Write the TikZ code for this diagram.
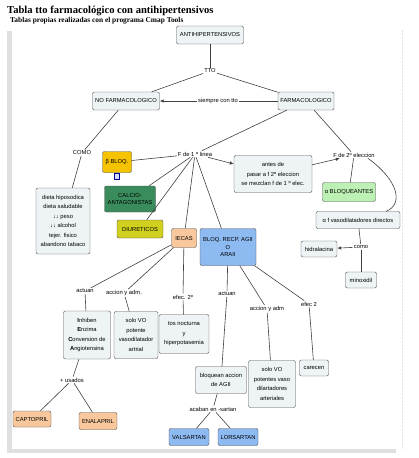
\documentclass[tikz,border=0pt]{standalone}
\usepackage{fontspec}
\setmainfont{Liberation Serif}
\setsansfont{Liberation Sans}
\usetikzlibrary{arrows.meta,positioning}

\definecolor{cmapfill}{HTML}{EEF3F6}
\definecolor{betagold}{HTML}{F5C300}
\definecolor{calciogreen}{HTML}{3A8C5C}
\definecolor{diuryellow}{HTML}{D0D01E}
\definecolor{peach}{HTML}{F8C89C}
\definecolor{araiiblue}{HTML}{8EBAF2}
\definecolor{alfagreen}{HTML}{BDF0B4}

\newcommand\cmapfont{\sffamily\fontsize{5.8}{9.5}\selectfont}

\tikzset{
  concept/.style={draw=black!70, rounded corners=2pt, fill=cmapfill, align=center, font=\cmapfont, inner sep=1.5pt},
  linkword/.style={font=\cmapfont, inner sep=1pt},
  conn/.style={draw=black!75, line width=0.6pt},
  arr/.style={conn, -{Latex[length=4pt,width=3.5pt]}}
}

\begin{document}
\begin{tikzpicture}[x=1pt,y=-1pt]
    \useasboundingbox (0,0) rectangle (419,458);
    % Frame of the map
    \fill[black!12] (7,31) rectangle (12,453);
    \fill[black!12] (7,449) rectangle (396,453);
    \draw[black!10, densely dotted] (402,30) -- (402,449);
    % Titles
    \node[anchor=base west, inner sep=0, font=\bfseries\fontsize{10.6}{12}\selectfont] (title) at (7,13) {Tabla tto farmacológico con antihipertensivos};
    \node[anchor=base west, inner sep=0, font=\bfseries\fontsize{7.4}{8}\selectfont] (subtitle) at (10,22) {Tablas propias realizadas con el programa Cmap Tools};

    % Concepts
    \node[concept, minimum width=67, minimum height=18] (anti) at (210,35) {ANTIHIPERTENSIVOS};
    \node[concept, minimum width=67, minimum height=18] (nofarm) at (126,101) {NO FARMACOLOGICO};
    \node[concept, minimum width=56, minimum height=18] (farm) at (306,101) {FARMACOLOGICO};
    \node[concept, minimum width=54, minimum height=66] (dieta) at (63,221) {dieta hiposodica\\dieta saludable\\↓↓ peso\\↓↓ alcohol\\tejer. fisico\\abandono tabaco};
    \node[concept, fill=betagold, minimum width=29, minimum height=21] (beta) at (117,162) {β BLOQ.};
    \node[draw=blue!60!black, fill=blue!15, minimum width=5, minimum height=6, inner sep=0] (betaicon) at (117,176) {};
    \node[concept, fill=calciogreen, minimum width=51, minimum height=26] (calcio) at (130,199) {CALCIO-\\[-2pt]ANTAGONISTAS};
    \node[concept, fill=diuryellow, minimum width=46, minimum height=18] (diur) at (140,229) {DIURETICOS};
    \node[concept, fill=peach, minimum width=25, minimum height=19] (iecas) at (184,238) {IECAS};
    \node[concept, fill=araiiblue, minimum width=56, minimum height=37] (araii) at (228,247) {BLOQ. RECP. AGII\\[-2pt]O\\[-2pt]ARAII};
    \node[concept, minimum width=78, minimum height=37] (antes) at (273,174) {antes de\\pasar a f 2º eleccion\\se mezclan f de 1 º elec.};
    \node[concept, fill=alfagreen, minimum width=53, minimum height=19] (alfab) at (349,192) {α BLOQUEANTES};
    \node[concept, minimum width=84, minimum height=17] (vaso) at (358,220) {α f vasodilatadores directos};
    \node[concept, minimum width=36, minimum height=16] (hidra) at (319,249) {hidralacina};
    \node[concept, minimum width=31, minimum height=16] (minox) at (361,280) {minoxidil};
    \node[concept, minimum width=47, minimum height=48] (inhiben) at (87,335) {\textbf{I}nhiben\\\textbf{E}nzima\\\textbf{C}onversion de\\\textbf{A}ngiotensina};
    \node[concept, minimum width=44, minimum height=47] (soloa) at (136,335) {solo VO\\potente\\vasodilatador\\artrial};
    \node[concept, minimum width=50, minimum height=39] (tos) at (184,334) {tos nocturna\\y\\hiperpotasemia};
    \node[concept, fill=peach, minimum width=38, minimum height=16] (captop) at (32,419) {CAPTOPRIL};
    \node[concept, fill=peach, minimum width=38, minimum height=17] (enal) at (98,421) {ENALAPRIL};
    \node[concept, minimum width=51, minimum height=27] (bloq) at (221,380) {bloquean accion\\de AGII};
    \node[concept, minimum width=47, minimum height=47] (solob) at (272,384) {solo VO\\potentes vaso\\dilartadores\\arteriales};
    \node[concept, minimum width=29, minimum height=16] (carecen) at (314,368) {carecen};
    \node[concept, fill=araiiblue, minimum width=40, minimum height=17] (valsar) at (189,437) {VALSARTAN};
    \node[concept, fill=araiiblue, minimum width=40, minimum height=17] (lorsar) at (238,437) {LORSARTAN};

    % Linking words
    \node[linkword] (tto) at (210,71) {TTO};
    \node[linkword] (siempre) at (218,101) {siempre con tto};
    \node[linkword] (como1) at (82,153) {COMO};
    \node[linkword] (f1) at (195,154) {F de 1 º linea};
    \node[linkword] (f2) at (354,155) {F de 2º eleccion};
    \node[linkword] (como2) at (361,247) {como};
    \node[linkword] (actua1) at (85,291) {actuan};
    \node[linkword] (accion1) at (124,293) {accion y adm.};
    \node[linkword] (efec1) at (183,297) {efec. 2º};
    \node[linkword] (usados) at (72,380) {+ usados};
    \node[linkword] (actua2) at (227,294) {actuan};
    \node[linkword] (accion2) at (267,309) {accion y adm};
    \node[linkword] (efec2) at (309,304) {efec 2};
    \node[linkword] (sartan) at (213,409) {acaban en -sartan};

    % Connections
    \draw[conn] (anti) -- (tto);
    \draw[conn] (tto) -- (nofarm);
    \draw[conn] (tto) -- (farm);
    \draw[conn] (farm) -- (siempre);
    \draw[arr] (siempre) -- (nofarm);
    \draw[conn] (nofarm) -- (como1) -- (dieta);
    \draw[conn] (farm) -- (f1);
    \draw[conn] (farm) -- (f2);
    \foreach \t in {beta,calcio,diur,iecas,araii} {
        \draw[conn] (f1) -- (\t);
    }
    \draw[arr] (f1) -- (antes);
    \draw[arr] (antes) -- (f2);
    \draw[conn] (f2) -- (alfab);
    \draw[conn] ([xshift=-8]f2.south east) .. controls (398,180) and (404,204) .. ([xshift=-14]vaso.north east);
    \draw[conn] (vaso) -- (como2);
    \draw[arr] (como2) -- (hidra);
    \draw[conn] (como2) -- (minox);
    % IECAS branch
    \draw[conn] (iecas) -- (actua1) -- (inhiben);
    \draw[conn] (iecas) -- (accion1) -- (soloa);
    \draw[conn] (iecas) -- (efec1) -- (tos);
    \draw[conn] (inhiben) -- (usados);
    \draw[conn] (usados) -- (captop);
    \draw[conn] (usados) -- (enal);
    % ARAII branch
    \draw[conn] (araii) -- (actua2) -- (bloq);
    \draw[conn] (araii) -- (accion2) -- (solob);
    \draw[conn] (araii) -- (efec2) -- (carecen);
    \draw[conn] (bloq) -- (sartan);
    \draw[conn] (sartan) -- (valsar);
    \draw[conn] (sartan) -- (lorsar);
\end{tikzpicture}
\end{document}
